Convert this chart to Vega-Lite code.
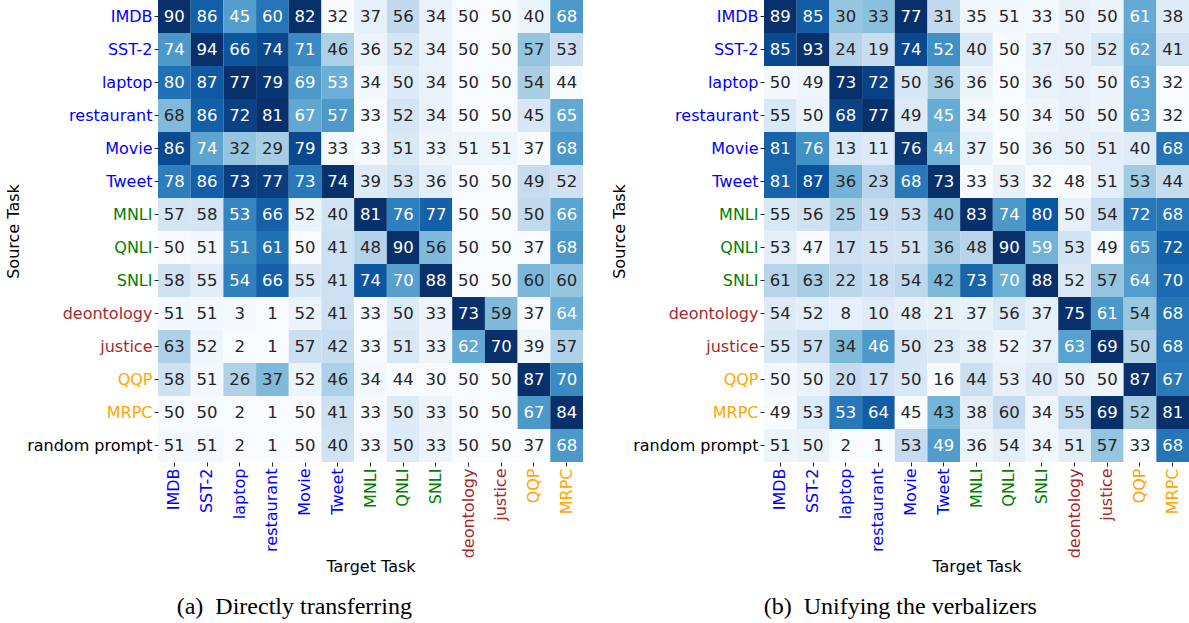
{
  "$schema": "https://vega.github.io/schema/vega-lite/v6.json",
  "padding": {"left": 5, "top": 0, "right": 0, "bottom": 0},
  "background": "white",
  "datasets": {
    "a": [
      {"s":"IMDB","t":"IMDB","v":90},{"s":"IMDB","t":"SST-2","v":86},{"s":"IMDB","t":"laptop","v":45},{"s":"IMDB","t":"restaurant","v":60},{"s":"IMDB","t":"Movie","v":82},{"s":"IMDB","t":"Tweet","v":32},{"s":"IMDB","t":"MNLI","v":37},{"s":"IMDB","t":"QNLI","v":56},{"s":"IMDB","t":"SNLI","v":34},{"s":"IMDB","t":"deontology","v":50},{"s":"IMDB","t":"justice","v":50},{"s":"IMDB","t":"QQP","v":40},{"s":"IMDB","t":"MRPC","v":68},
      {"s":"SST-2","t":"IMDB","v":74},{"s":"SST-2","t":"SST-2","v":94},{"s":"SST-2","t":"laptop","v":66},{"s":"SST-2","t":"restaurant","v":74},{"s":"SST-2","t":"Movie","v":71},{"s":"SST-2","t":"Tweet","v":46},{"s":"SST-2","t":"MNLI","v":36},{"s":"SST-2","t":"QNLI","v":52},{"s":"SST-2","t":"SNLI","v":34},{"s":"SST-2","t":"deontology","v":50},{"s":"SST-2","t":"justice","v":50},{"s":"SST-2","t":"QQP","v":57},{"s":"SST-2","t":"MRPC","v":53},
      {"s":"laptop","t":"IMDB","v":80},{"s":"laptop","t":"SST-2","v":87},{"s":"laptop","t":"laptop","v":77},{"s":"laptop","t":"restaurant","v":79},{"s":"laptop","t":"Movie","v":69},{"s":"laptop","t":"Tweet","v":53},{"s":"laptop","t":"MNLI","v":34},{"s":"laptop","t":"QNLI","v":50},{"s":"laptop","t":"SNLI","v":34},{"s":"laptop","t":"deontology","v":50},{"s":"laptop","t":"justice","v":50},{"s":"laptop","t":"QQP","v":54},{"s":"laptop","t":"MRPC","v":44},
      {"s":"restaurant","t":"IMDB","v":68},{"s":"restaurant","t":"SST-2","v":86},{"s":"restaurant","t":"laptop","v":72},{"s":"restaurant","t":"restaurant","v":81},{"s":"restaurant","t":"Movie","v":67},{"s":"restaurant","t":"Tweet","v":57},{"s":"restaurant","t":"MNLI","v":33},{"s":"restaurant","t":"QNLI","v":52},{"s":"restaurant","t":"SNLI","v":34},{"s":"restaurant","t":"deontology","v":50},{"s":"restaurant","t":"justice","v":50},{"s":"restaurant","t":"QQP","v":45},{"s":"restaurant","t":"MRPC","v":65},
      {"s":"Movie","t":"IMDB","v":86},{"s":"Movie","t":"SST-2","v":74},{"s":"Movie","t":"laptop","v":32},{"s":"Movie","t":"restaurant","v":29},{"s":"Movie","t":"Movie","v":79},{"s":"Movie","t":"Tweet","v":33},{"s":"Movie","t":"MNLI","v":33},{"s":"Movie","t":"QNLI","v":51},{"s":"Movie","t":"SNLI","v":33},{"s":"Movie","t":"deontology","v":51},{"s":"Movie","t":"justice","v":51},{"s":"Movie","t":"QQP","v":37},{"s":"Movie","t":"MRPC","v":68},
      {"s":"Tweet","t":"IMDB","v":78},{"s":"Tweet","t":"SST-2","v":86},{"s":"Tweet","t":"laptop","v":73},{"s":"Tweet","t":"restaurant","v":77},{"s":"Tweet","t":"Movie","v":73},{"s":"Tweet","t":"Tweet","v":74},{"s":"Tweet","t":"MNLI","v":39},{"s":"Tweet","t":"QNLI","v":53},{"s":"Tweet","t":"SNLI","v":36},{"s":"Tweet","t":"deontology","v":50},{"s":"Tweet","t":"justice","v":50},{"s":"Tweet","t":"QQP","v":49},{"s":"Tweet","t":"MRPC","v":52},
      {"s":"MNLI","t":"IMDB","v":57},{"s":"MNLI","t":"SST-2","v":58},{"s":"MNLI","t":"laptop","v":53},{"s":"MNLI","t":"restaurant","v":66},{"s":"MNLI","t":"Movie","v":52},{"s":"MNLI","t":"Tweet","v":40},{"s":"MNLI","t":"MNLI","v":81},{"s":"MNLI","t":"QNLI","v":76},{"s":"MNLI","t":"SNLI","v":77},{"s":"MNLI","t":"deontology","v":50},{"s":"MNLI","t":"justice","v":50},{"s":"MNLI","t":"QQP","v":50},{"s":"MNLI","t":"MRPC","v":66},
      {"s":"QNLI","t":"IMDB","v":50},{"s":"QNLI","t":"SST-2","v":51},{"s":"QNLI","t":"laptop","v":51},{"s":"QNLI","t":"restaurant","v":61},{"s":"QNLI","t":"Movie","v":50},{"s":"QNLI","t":"Tweet","v":41},{"s":"QNLI","t":"MNLI","v":48},{"s":"QNLI","t":"QNLI","v":90},{"s":"QNLI","t":"SNLI","v":56},{"s":"QNLI","t":"deontology","v":50},{"s":"QNLI","t":"justice","v":50},{"s":"QNLI","t":"QQP","v":37},{"s":"QNLI","t":"MRPC","v":68},
      {"s":"SNLI","t":"IMDB","v":58},{"s":"SNLI","t":"SST-2","v":55},{"s":"SNLI","t":"laptop","v":54},{"s":"SNLI","t":"restaurant","v":66},{"s":"SNLI","t":"Movie","v":55},{"s":"SNLI","t":"Tweet","v":41},{"s":"SNLI","t":"MNLI","v":74},{"s":"SNLI","t":"QNLI","v":70},{"s":"SNLI","t":"SNLI","v":88},{"s":"SNLI","t":"deontology","v":50},{"s":"SNLI","t":"justice","v":50},{"s":"SNLI","t":"QQP","v":60},{"s":"SNLI","t":"MRPC","v":60},
      {"s":"deontology","t":"IMDB","v":51},{"s":"deontology","t":"SST-2","v":51},{"s":"deontology","t":"laptop","v":3},{"s":"deontology","t":"restaurant","v":1},{"s":"deontology","t":"Movie","v":52},{"s":"deontology","t":"Tweet","v":41},{"s":"deontology","t":"MNLI","v":33},{"s":"deontology","t":"QNLI","v":50},{"s":"deontology","t":"SNLI","v":33},{"s":"deontology","t":"deontology","v":73},{"s":"deontology","t":"justice","v":59},{"s":"deontology","t":"QQP","v":37},{"s":"deontology","t":"MRPC","v":64},
      {"s":"justice","t":"IMDB","v":63},{"s":"justice","t":"SST-2","v":52},{"s":"justice","t":"laptop","v":2},{"s":"justice","t":"restaurant","v":1},{"s":"justice","t":"Movie","v":57},{"s":"justice","t":"Tweet","v":42},{"s":"justice","t":"MNLI","v":33},{"s":"justice","t":"QNLI","v":51},{"s":"justice","t":"SNLI","v":33},{"s":"justice","t":"deontology","v":62},{"s":"justice","t":"justice","v":70},{"s":"justice","t":"QQP","v":39},{"s":"justice","t":"MRPC","v":57},
      {"s":"QQP","t":"IMDB","v":58},{"s":"QQP","t":"SST-2","v":51},{"s":"QQP","t":"laptop","v":26},{"s":"QQP","t":"restaurant","v":37},{"s":"QQP","t":"Movie","v":52},{"s":"QQP","t":"Tweet","v":46},{"s":"QQP","t":"MNLI","v":34},{"s":"QQP","t":"QNLI","v":44},{"s":"QQP","t":"SNLI","v":30},{"s":"QQP","t":"deontology","v":50},{"s":"QQP","t":"justice","v":50},{"s":"QQP","t":"QQP","v":87},{"s":"QQP","t":"MRPC","v":70},
      {"s":"MRPC","t":"IMDB","v":50},{"s":"MRPC","t":"SST-2","v":50},{"s":"MRPC","t":"laptop","v":2},{"s":"MRPC","t":"restaurant","v":1},{"s":"MRPC","t":"Movie","v":50},{"s":"MRPC","t":"Tweet","v":41},{"s":"MRPC","t":"MNLI","v":33},{"s":"MRPC","t":"QNLI","v":50},{"s":"MRPC","t":"SNLI","v":33},{"s":"MRPC","t":"deontology","v":50},{"s":"MRPC","t":"justice","v":50},{"s":"MRPC","t":"QQP","v":67},{"s":"MRPC","t":"MRPC","v":84},
      {"s":"random prompt","t":"IMDB","v":51},{"s":"random prompt","t":"SST-2","v":51},{"s":"random prompt","t":"laptop","v":2},{"s":"random prompt","t":"restaurant","v":1},{"s":"random prompt","t":"Movie","v":50},{"s":"random prompt","t":"Tweet","v":40},{"s":"random prompt","t":"MNLI","v":33},{"s":"random prompt","t":"QNLI","v":50},{"s":"random prompt","t":"SNLI","v":33},{"s":"random prompt","t":"deontology","v":50},{"s":"random prompt","t":"justice","v":50},{"s":"random prompt","t":"QQP","v":37},{"s":"random prompt","t":"MRPC","v":68}
    ],
    "b": [
      {"s":"IMDB","t":"IMDB","v":89},{"s":"IMDB","t":"SST-2","v":85},{"s":"IMDB","t":"laptop","v":30},{"s":"IMDB","t":"restaurant","v":33},{"s":"IMDB","t":"Movie","v":77},{"s":"IMDB","t":"Tweet","v":31},{"s":"IMDB","t":"MNLI","v":35},{"s":"IMDB","t":"QNLI","v":51},{"s":"IMDB","t":"SNLI","v":33},{"s":"IMDB","t":"deontology","v":50},{"s":"IMDB","t":"justice","v":50},{"s":"IMDB","t":"QQP","v":61},{"s":"IMDB","t":"MRPC","v":38},
      {"s":"SST-2","t":"IMDB","v":85},{"s":"SST-2","t":"SST-2","v":93},{"s":"SST-2","t":"laptop","v":24},{"s":"SST-2","t":"restaurant","v":19},{"s":"SST-2","t":"Movie","v":74},{"s":"SST-2","t":"Tweet","v":52},{"s":"SST-2","t":"MNLI","v":40},{"s":"SST-2","t":"QNLI","v":50},{"s":"SST-2","t":"SNLI","v":37},{"s":"SST-2","t":"deontology","v":50},{"s":"SST-2","t":"justice","v":52},{"s":"SST-2","t":"QQP","v":62},{"s":"SST-2","t":"MRPC","v":41},
      {"s":"laptop","t":"IMDB","v":50},{"s":"laptop","t":"SST-2","v":49},{"s":"laptop","t":"laptop","v":73},{"s":"laptop","t":"restaurant","v":72},{"s":"laptop","t":"Movie","v":50},{"s":"laptop","t":"Tweet","v":36},{"s":"laptop","t":"MNLI","v":36},{"s":"laptop","t":"QNLI","v":50},{"s":"laptop","t":"SNLI","v":36},{"s":"laptop","t":"deontology","v":50},{"s":"laptop","t":"justice","v":50},{"s":"laptop","t":"QQP","v":63},{"s":"laptop","t":"MRPC","v":32},
      {"s":"restaurant","t":"IMDB","v":55},{"s":"restaurant","t":"SST-2","v":50},{"s":"restaurant","t":"laptop","v":68},{"s":"restaurant","t":"restaurant","v":77},{"s":"restaurant","t":"Movie","v":49},{"s":"restaurant","t":"Tweet","v":45},{"s":"restaurant","t":"MNLI","v":34},{"s":"restaurant","t":"QNLI","v":50},{"s":"restaurant","t":"SNLI","v":34},{"s":"restaurant","t":"deontology","v":50},{"s":"restaurant","t":"justice","v":50},{"s":"restaurant","t":"QQP","v":63},{"s":"restaurant","t":"MRPC","v":32},
      {"s":"Movie","t":"IMDB","v":81},{"s":"Movie","t":"SST-2","v":76},{"s":"Movie","t":"laptop","v":13},{"s":"Movie","t":"restaurant","v":11},{"s":"Movie","t":"Movie","v":76},{"s":"Movie","t":"Tweet","v":44},{"s":"Movie","t":"MNLI","v":37},{"s":"Movie","t":"QNLI","v":50},{"s":"Movie","t":"SNLI","v":36},{"s":"Movie","t":"deontology","v":50},{"s":"Movie","t":"justice","v":51},{"s":"Movie","t":"QQP","v":40},{"s":"Movie","t":"MRPC","v":68},
      {"s":"Tweet","t":"IMDB","v":81},{"s":"Tweet","t":"SST-2","v":87},{"s":"Tweet","t":"laptop","v":36},{"s":"Tweet","t":"restaurant","v":23},{"s":"Tweet","t":"Movie","v":68},{"s":"Tweet","t":"Tweet","v":73},{"s":"Tweet","t":"MNLI","v":33},{"s":"Tweet","t":"QNLI","v":53},{"s":"Tweet","t":"SNLI","v":32},{"s":"Tweet","t":"deontology","v":48},{"s":"Tweet","t":"justice","v":51},{"s":"Tweet","t":"QQP","v":53},{"s":"Tweet","t":"MRPC","v":44},
      {"s":"MNLI","t":"IMDB","v":55},{"s":"MNLI","t":"SST-2","v":56},{"s":"MNLI","t":"laptop","v":25},{"s":"MNLI","t":"restaurant","v":19},{"s":"MNLI","t":"Movie","v":53},{"s":"MNLI","t":"Tweet","v":40},{"s":"MNLI","t":"MNLI","v":83},{"s":"MNLI","t":"QNLI","v":74},{"s":"MNLI","t":"SNLI","v":80},{"s":"MNLI","t":"deontology","v":50},{"s":"MNLI","t":"justice","v":54},{"s":"MNLI","t":"QQP","v":72},{"s":"MNLI","t":"MRPC","v":68},
      {"s":"QNLI","t":"IMDB","v":53},{"s":"QNLI","t":"SST-2","v":47},{"s":"QNLI","t":"laptop","v":17},{"s":"QNLI","t":"restaurant","v":15},{"s":"QNLI","t":"Movie","v":51},{"s":"QNLI","t":"Tweet","v":36},{"s":"QNLI","t":"MNLI","v":48},{"s":"QNLI","t":"QNLI","v":90},{"s":"QNLI","t":"SNLI","v":59},{"s":"QNLI","t":"deontology","v":53},{"s":"QNLI","t":"justice","v":49},{"s":"QNLI","t":"QQP","v":65},{"s":"QNLI","t":"MRPC","v":72},
      {"s":"SNLI","t":"IMDB","v":61},{"s":"SNLI","t":"SST-2","v":63},{"s":"SNLI","t":"laptop","v":22},{"s":"SNLI","t":"restaurant","v":18},{"s":"SNLI","t":"Movie","v":54},{"s":"SNLI","t":"Tweet","v":42},{"s":"SNLI","t":"MNLI","v":73},{"s":"SNLI","t":"QNLI","v":70},{"s":"SNLI","t":"SNLI","v":88},{"s":"SNLI","t":"deontology","v":52},{"s":"SNLI","t":"justice","v":57},{"s":"SNLI","t":"QQP","v":64},{"s":"SNLI","t":"MRPC","v":70},
      {"s":"deontology","t":"IMDB","v":54},{"s":"deontology","t":"SST-2","v":52},{"s":"deontology","t":"laptop","v":8},{"s":"deontology","t":"restaurant","v":10},{"s":"deontology","t":"Movie","v":48},{"s":"deontology","t":"Tweet","v":21},{"s":"deontology","t":"MNLI","v":37},{"s":"deontology","t":"QNLI","v":56},{"s":"deontology","t":"SNLI","v":37},{"s":"deontology","t":"deontology","v":75},{"s":"deontology","t":"justice","v":61},{"s":"deontology","t":"QQP","v":54},{"s":"deontology","t":"MRPC","v":68},
      {"s":"justice","t":"IMDB","v":55},{"s":"justice","t":"SST-2","v":57},{"s":"justice","t":"laptop","v":34},{"s":"justice","t":"restaurant","v":46},{"s":"justice","t":"Movie","v":50},{"s":"justice","t":"Tweet","v":23},{"s":"justice","t":"MNLI","v":38},{"s":"justice","t":"QNLI","v":52},{"s":"justice","t":"SNLI","v":37},{"s":"justice","t":"deontology","v":63},{"s":"justice","t":"justice","v":69},{"s":"justice","t":"QQP","v":50},{"s":"justice","t":"MRPC","v":68},
      {"s":"QQP","t":"IMDB","v":50},{"s":"QQP","t":"SST-2","v":50},{"s":"QQP","t":"laptop","v":20},{"s":"QQP","t":"restaurant","v":17},{"s":"QQP","t":"Movie","v":50},{"s":"QQP","t":"Tweet","v":16},{"s":"QQP","t":"MNLI","v":44},{"s":"QQP","t":"QNLI","v":53},{"s":"QQP","t":"SNLI","v":40},{"s":"QQP","t":"deontology","v":50},{"s":"QQP","t":"justice","v":50},{"s":"QQP","t":"QQP","v":87},{"s":"QQP","t":"MRPC","v":67},
      {"s":"MRPC","t":"IMDB","v":49},{"s":"MRPC","t":"SST-2","v":53},{"s":"MRPC","t":"laptop","v":53},{"s":"MRPC","t":"restaurant","v":64},{"s":"MRPC","t":"Movie","v":45},{"s":"MRPC","t":"Tweet","v":43},{"s":"MRPC","t":"MNLI","v":38},{"s":"MRPC","t":"QNLI","v":60},{"s":"MRPC","t":"SNLI","v":34},{"s":"MRPC","t":"deontology","v":55},{"s":"MRPC","t":"justice","v":69},{"s":"MRPC","t":"QQP","v":52},{"s":"MRPC","t":"MRPC","v":81},
      {"s":"random prompt","t":"IMDB","v":51},{"s":"random prompt","t":"SST-2","v":50},{"s":"random prompt","t":"laptop","v":2},{"s":"random prompt","t":"restaurant","v":1},{"s":"random prompt","t":"Movie","v":53},{"s":"random prompt","t":"Tweet","v":49},{"s":"random prompt","t":"MNLI","v":36},{"s":"random prompt","t":"QNLI","v":54},{"s":"random prompt","t":"SNLI","v":34},{"s":"random prompt","t":"deontology","v":51},{"s":"random prompt","t":"justice","v":57},{"s":"random prompt","t":"QQP","v":33},{"s":"random prompt","t":"MRPC","v":68}
    ]
  },
  "hconcat": [
    {
      "data": {"name": "a"},
      "width": 425,
      "height": 462,
      "title": {"text": "(a)\u00a0\u00a0Directly transferring", "orient": "bottom", "anchor": "middle", "frame": "bounds", "font": "Liberation Serif", "fontSize": 24, "fontWeight": "normal", "color": "#000000", "offset": 20},
      "transform": [
        {"joinaggregate": [{"op": "min", "field": "v", "as": "mn"}, {"op": "max", "field": "v", "as": "mx"}], "groupby": ["t"]},
        {"calculate": "(datum.v - datum.mn) / (datum.mx - datum.mn)", "as": "n"}
      ],
      "encoding": {
        "x": {"field": "t", "type": "nominal", "sort": ["IMDB","SST-2","laptop","restaurant","Movie","Tweet","MNLI","QNLI","SNLI","deontology","justice","QQP","MRPC"], "scale": {"paddingInner": 0, "paddingOuter": 0}, "title": "Target Task", "axis": {"labelAngle": -90, "titlePadding": 1, "labelColor": {"expr": "indexof(['IMDB','SST-2','laptop','restaurant','Movie','Tweet'],datum.value)>=0?'#0000ff':indexof(['MNLI','QNLI','SNLI'],datum.value)>=0?'#008000':indexof(['deontology','justice'],datum.value)>=0?'#a52a2a':indexof(['QQP','MRPC'],datum.value)>=0?'#ffa500':'#000000'"}}},
        "y": {"field": "s", "type": "nominal", "sort": ["IMDB","SST-2","laptop","restaurant","Movie","Tweet","MNLI","QNLI","SNLI","deontology","justice","QQP","MRPC","random prompt"], "scale": {"paddingInner": 0, "paddingOuter": 0}, "title": "Source Task", "axis": {"labelColor": {"expr": "indexof(['IMDB','SST-2','laptop','restaurant','Movie','Tweet'],datum.value)>=0?'#0000ff':indexof(['MNLI','QNLI','SNLI'],datum.value)>=0?'#008000':indexof(['deontology','justice'],datum.value)>=0?'#a52a2a':indexof(['QQP','MRPC'],datum.value)>=0?'#ffa500':'#000000'"}}}
      },
      "layer": [
        {"mark": {"type": "rect", "strokeWidth": 0}, "encoding": {"color": {"field": "n", "type": "quantitative", "legend": null, "scale": {"domain": [0,0.125,0.25,0.375,0.5,0.625,0.75,0.875,1], "range": ["#f7fbff","#deebf7","#c6dbef","#9ecae1","#6baed6","#4292c6","#2171b5","#08519c","#08306b"]}}}},
        {"mark": {"type": "text", "font": "DejaVu Sans", "fontSize": 16.5, "align": "center", "baseline": "middle"}, "encoding": {"text": {"field": "v", "type": "quantitative"}, "color": {"condition": {"test": "datum.n > 0.48", "value": "#ffffff"}, "value": "#262626"}}}
      ]
    },
    {
      "data": {"name": "b"},
      "width": 425,
      "height": 462,
      "title": {"text": "(b)\u00a0\u00a0Unifying the verbalizers", "orient": "bottom", "anchor": "middle", "frame": "bounds", "font": "Liberation Serif", "fontSize": 24, "fontWeight": "normal", "color": "#000000", "offset": 20},
      "transform": [
        {"joinaggregate": [{"op": "min", "field": "v", "as": "mn"}, {"op": "max", "field": "v", "as": "mx"}], "groupby": ["t"]},
        {"calculate": "(datum.v - datum.mn) / (datum.mx - datum.mn)", "as": "n"}
      ],
      "encoding": {
        "x": {"field": "t", "type": "nominal", "sort": ["IMDB","SST-2","laptop","restaurant","Movie","Tweet","MNLI","QNLI","SNLI","deontology","justice","QQP","MRPC"], "scale": {"paddingInner": 0, "paddingOuter": 0}, "title": "Target Task", "axis": {"labelAngle": -90, "titlePadding": 1, "labelColor": {"expr": "indexof(['IMDB','SST-2','laptop','restaurant','Movie','Tweet'],datum.value)>=0?'#0000ff':indexof(['MNLI','QNLI','SNLI'],datum.value)>=0?'#008000':indexof(['deontology','justice'],datum.value)>=0?'#a52a2a':indexof(['QQP','MRPC'],datum.value)>=0?'#ffa500':'#000000'"}}},
        "y": {"field": "s", "type": "nominal", "sort": ["IMDB","SST-2","laptop","restaurant","Movie","Tweet","MNLI","QNLI","SNLI","deontology","justice","QQP","MRPC","random prompt"], "scale": {"paddingInner": 0, "paddingOuter": 0}, "title": "Source Task", "axis": {"labelColor": {"expr": "indexof(['IMDB','SST-2','laptop','restaurant','Movie','Tweet'],datum.value)>=0?'#0000ff':indexof(['MNLI','QNLI','SNLI'],datum.value)>=0?'#008000':indexof(['deontology','justice'],datum.value)>=0?'#a52a2a':indexof(['QQP','MRPC'],datum.value)>=0?'#ffa500':'#000000'"}}}
      },
      "layer": [
        {"mark": {"type": "rect", "strokeWidth": 0}, "encoding": {"color": {"field": "n", "type": "quantitative", "legend": null, "scale": {"domain": [0,0.125,0.25,0.375,0.5,0.625,0.75,0.875,1], "range": ["#f7fbff","#deebf7","#c6dbef","#9ecae1","#6baed6","#4292c6","#2171b5","#08519c","#08306b"]}}}},
        {"mark": {"type": "text", "font": "DejaVu Sans", "fontSize": 16.5, "align": "center", "baseline": "middle"}, "encoding": {"text": {"field": "v", "type": "quantitative"}, "color": {"condition": {"test": "datum.n > 0.48", "value": "#ffffff"}, "value": "#262626"}}}
      ]
    }
  ],
  "config": {
    "view": {"stroke": null},
    "concat": {"spacing": 28},
    "axis": {"domain": false, "grid": false, "labelFont": "DejaVu Sans", "labelFontSize": 16, "titleFont": "DejaVu Sans", "titleFontSize": 16, "titleFontWeight": "normal", "titleColor": "#000000", "tickColor": "#262626", "tickSize": 4, "tickWidth": 1, "labelPadding": 2, "titlePadding": 5}
  }
}
